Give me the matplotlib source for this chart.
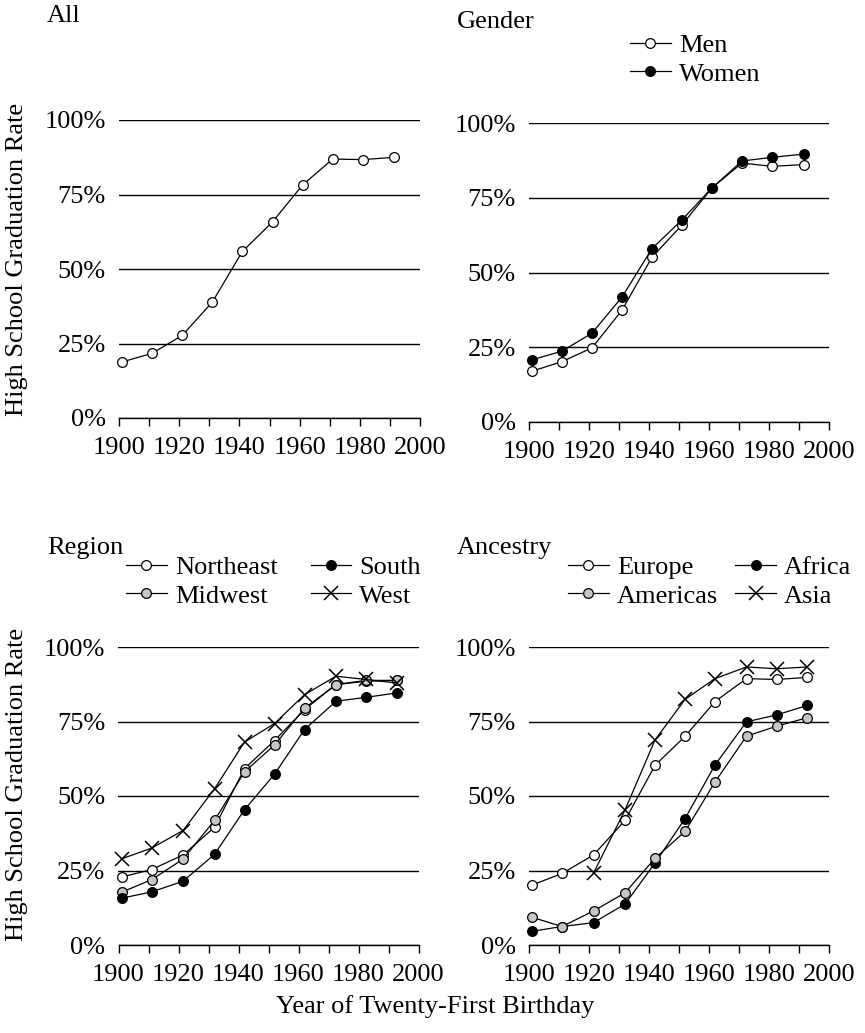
import matplotlib.pyplot as plt

plt.rcParams['font.family'] = ['Liberation Serif', 'DejaVu Serif']

# cohort years (year of 21st birthday)
years_top = [1901, 1911, 1921, 1931, 1941, 1951, 1961, 1971, 1981, 1991.5]
years_bottom = [1901, 1911, 1921.5, 1932, 1942, 1952, 1962, 1972.5, 1982.5, 1992.8]

# graduation rates, percent
all_rate = [18.8, 21.7, 27.7, 38.9, 55.9, 65.8, 78.2, 86.9, 86.7, 87.5]

men = [17.0, 20.2, 24.8, 37.4, 55.1, 65.9, 78.3, 86.6, 85.5, 86.1]
women = [20.8, 23.7, 29.7, 41.8, 58.0, 67.6, 78.3, 87.3, 88.5, 89.6]

northeast = [22.8, 25.3, 30.2, 39.5, 59.2, 68.6, 79.0, 87.4, 88.5, 88.8]
midwest = [17.7, 21.9, 28.8, 41.8, 58.1, 67.1, 79.4, 87.4, 88.8, 88.8]
south = [15.7, 17.8, 21.4, 30.4, 45.4, 57.3, 72.3, 81.8, 83.1, 84.6]
west = [28.9, 32.5, 38.4, 52.4, 68.1, 74.3, 84.0, 90.2, 89.1, 87.9]

europe = [20.1, 24.0, 30.2, 41.8, 60.3, 70.0, 81.7, 89.4, 89.1, 89.8]
americas = [9.3, 6.2, 11.4, 17.5, 29.1, 38.1, 54.7, 70.1, 73.4, 76.3]
africa = [4.6, 6.2, 7.5, 13.7, 27.5, 42.4, 60.4, 74.9, 77.2, 80.4]
asia = [24.1, 45.3, 68.8, 82.4, 89.4, 93.3, 92.7, 93.3]  # from 1921 on

FS = 19
GRAY = '#c6c6c6'
W, H = 865, 1033

fig = plt.figure(figsize=(W / 100, H / 100), dpi=100)


def px_axes(left, right, top, bottom):
    return fig.add_axes([left / W, 1 - bottom / H, (right - left) / W, (bottom - top) / H])


def style(ax):
    ax.set_xlim(1900, 2000)
    ax.set_ylim(0, 100)
    for s in ['top', 'right', 'left']:
        ax.spines[s].set_visible(False)
    ax.spines['bottom'].set_linewidth(1.0)
    ax.set_xticks(range(1900, 2001, 10))
    ax.set_xticklabels([str(y) if y % 20 == 0 else '' for y in range(1900, 2001, 10)])
    ax.set_yticks([0, 25, 50, 75, 100])
    ax.set_yticklabels(['0%', '25%', '50%', '75%', '100%'])
    ax.tick_params(axis='x', length=5.5, width=1.0, pad=8, labelsize=FS, direction='out')
    ax.tick_params(axis='y', length=0, pad=9.5, labelsize=FS)
    ax.grid(axis='y', color='black', lw=1.0)
    ax.set_axisbelow(True)


def series(ax, x, y, kind):
    kw = dict(color='black', lw=0.9, clip_on=False)
    if kind == 'x':
        return ax.plot(x, y, marker='x', ms=9.5, mew=1.1, mec='black', **kw)[0]
    fc = {'white': 'white', 'black': 'black', 'gray': GRAY}[kind]
    return ax.plot(x, y, marker='o', ms=7, mew=0.9, mfc=fc, mec='black', **kw)[0]


def legend(ax, handles, labels, ncol, x, y, colsp=0.65):
    ax.legend(handles, labels, ncol=ncol, loc='upper left',
              bbox_to_anchor=(x / W, 1 - y / H), bbox_transform=fig.transFigure,
              frameon=False, fontsize=FS, borderpad=0, borderaxespad=0,
              handlelength=1.55, handletextpad=0.3, columnspacing=colsp,
              labelspacing=0.18, numpoints=1)


ax1 = px_axes(119, 420, 120, 418)
ax2 = px_axes(529, 829, 123, 422)
ax3 = px_axes(118.5, 418.5, 647, 945)
ax4 = px_axes(529, 829, 647, 945)
for ax in (ax1, ax2, ax3, ax4):
    style(ax)

# All
series(ax1, years_top, all_rate, 'white')

# Gender
h_men = series(ax2, years_top, men, 'white')
h_women = series(ax2, years_top, women, 'black')
legend(ax2, [h_men, h_women], ['Men', 'Women'], 1, 630, 34)

# Region
h_ne = series(ax3, years_bottom, northeast, 'white')
h_mw = series(ax3, years_bottom, midwest, 'gray')
h_so = series(ax3, years_bottom, south, 'black')
h_we = series(ax3, years_bottom, west, 'x')
legend(ax3, [h_ne, h_mw, h_so, h_we], ['Northeast', 'Midwest', 'South', 'West'], 2, 126, 556,
       colsp=1.25)

# Ancestry
h_eu = series(ax4, years_bottom, europe, 'white')
h_af = series(ax4, years_bottom, africa, 'black')
h_am = series(ax4, years_bottom, americas, 'gray')
h_as = series(ax4, years_bottom[2:], asia, 'x')
legend(ax4, [h_eu, h_am, h_af, h_as], ['Europe', 'Americas', 'Africa', 'Asia'], 2, 568, 556)

# panel titles
for txt, x, y in [('All', 47, 16), ('Gender', 457, 22), ('Region', 47, 548), ('Ancestry', 457, 548)]:
    fig.text(x / W, 1 - y / H, txt, fontsize=FS, ha='left', va='center')

# shared y labels for the left column
for yc in (259, 784):
    fig.text(17 / W, 1 - yc / H, 'High School Graduation Rate', fontsize=FS,
             rotation=90, ha='center', va='center')

fig.text(435 / W, 1 - 1007 / H, 'Year of Twenty-First Birthday', fontsize=FS, ha='center', va='center')

fig.savefig('out.png', dpi=100)
